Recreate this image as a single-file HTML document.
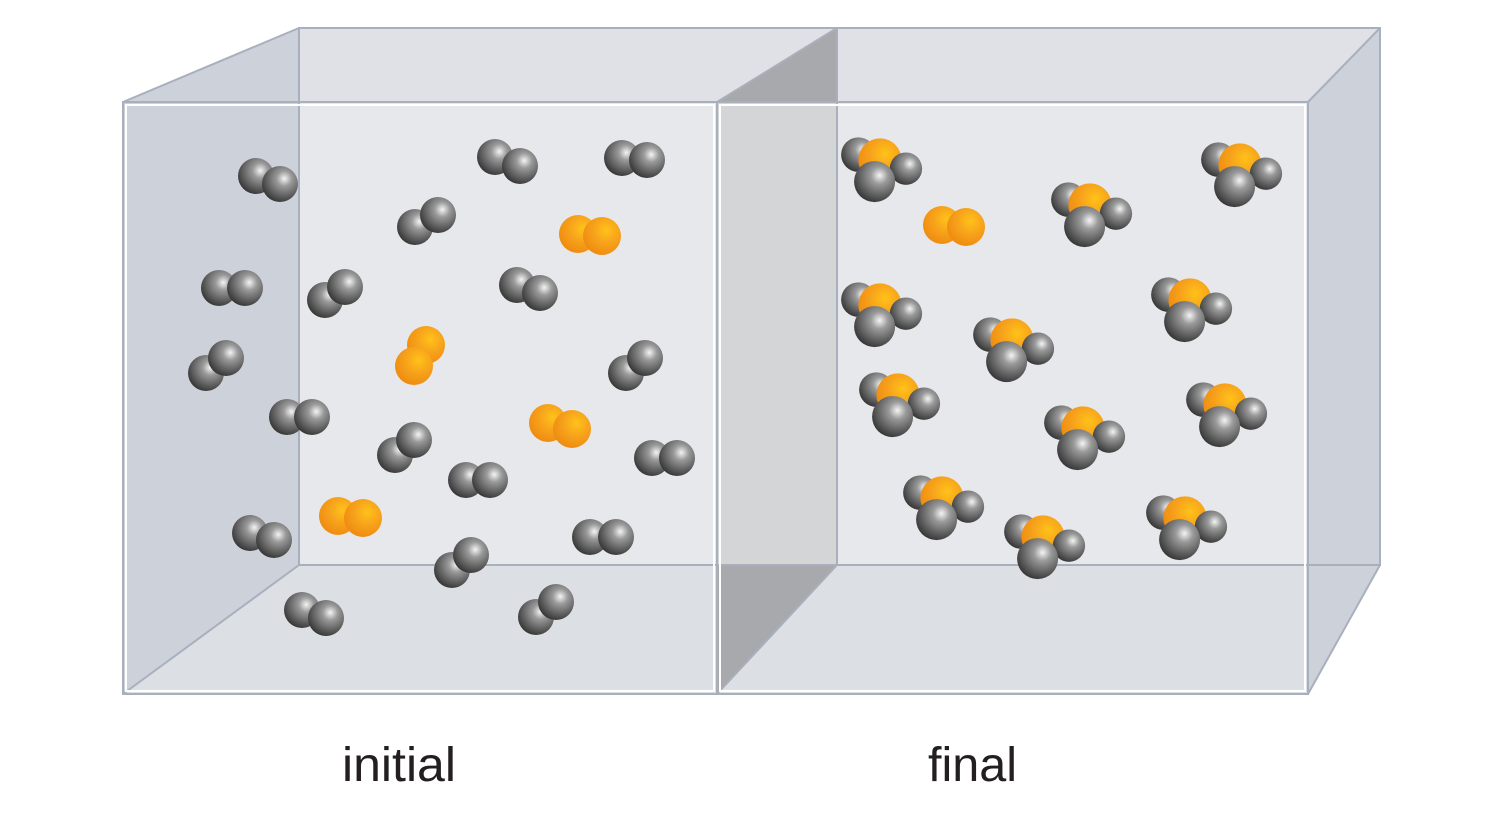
<!DOCTYPE html>
<html><head><meta charset="utf-8"><style>
html,body{margin:0;padding:0;background:#fff;}
svg{display:block}
text{font-family:"Liberation Sans",sans-serif;fill:#231f20}
</style></head><body>
<svg width="1500" height="820" viewBox="0 0 1500 820" xmlns="http://www.w3.org/2000/svg">
<defs>
<radialGradient id="g" cx="0.62" cy="0.35" r="0.7">
<stop offset="0" stop-color="#f4f4f4"/><stop offset="0.3" stop-color="#9a9a9a"/><stop offset="1" stop-color="#333"/></radialGradient>
<radialGradient id="o" cx="0.62" cy="0.35" r="0.7">
<stop offset="0" stop-color="#ffc21a"/><stop offset="0.5" stop-color="#f7a21b"/><stop offset="1" stop-color="#ee8a10"/></radialGradient>
<g id="nh3" transform="scale(1.08)">
<circle cx="-20" cy="-5" r="16" fill="url(#g)"/>
<circle cx="0" cy="0" r="20" fill="url(#o)"/>
<circle cx="24" cy="8" r="15" fill="url(#g)"/>
<circle cx="-5" cy="20" r="19" fill="url(#g)"/>
</g>
</defs>
<rect x="299" y="28" width="1081" height="537" fill="#e6e8ec"/>
<polygon points="123,102 299,28 837,28 717,102" fill="#dfe1e6"/>
<polygon points="717,102 837,28 1380,28 1308,102" fill="#dfe1e6"/>
<polygon points="123,102 299,28 299,565 123,694" fill="#cdd1da"/>
<polygon points="123,694 299,565 837,565 717,694" fill="#dcdfe4"/>
<polygon points="717,694 837,565 1380,565 1308,694" fill="#dcdfe4"/>
<polygon points="1308,102 1380,28 1380,565 1308,694" fill="#cdd1da"/>
<polygon points="717,102 837,28 837,565 717,694" fill="#d4d5d7"/>
<polygon points="717,102 837,28 837,102" fill="#a8a9ac"/>
<polygon points="717,694 837,565 717,565" fill="#a8a9ac"/>
<g stroke="#a9b0bd" stroke-width="2" fill="none">
<rect x="299" y="28" width="1081" height="537"/>
<line x1="123" y1="102" x2="299" y2="28"/>
<line x1="717" y1="102" x2="837" y2="28"/>
<line x1="1308" y1="102" x2="1380" y2="28"/>
<line x1="123" y1="694" x2="299" y2="565"/>
<line x1="717" y1="694" x2="837" y2="565"/>
<line x1="1308" y1="694" x2="1380" y2="565"/>
<line x1="837" y1="28" x2="837" y2="565"/>
</g>
<g fill="none">
<rect x="126" y="105" width="588" height="586" stroke="#fff" stroke-width="2"/>
<rect x="720" y="105" width="585" height="586" stroke="#fff" stroke-width="2"/>
<rect x="123" y="102" width="1185" height="592" stroke="#a9b0bd" stroke-width="2"/>
<line x1="717" y1="102" x2="717" y2="694" stroke="#a9b0bd" stroke-width="2"/>
</g>
<g>
<circle cx="256" cy="176" r="18" fill="url(#g)"/><circle cx="280" cy="184" r="18" fill="url(#g)"/>
<circle cx="495" cy="157" r="18" fill="url(#g)"/><circle cx="520" cy="166" r="18" fill="url(#g)"/>
<circle cx="622" cy="158" r="18" fill="url(#g)"/><circle cx="647" cy="160" r="18" fill="url(#g)"/>
<circle cx="415" cy="227" r="18" fill="url(#g)"/><circle cx="438" cy="215" r="18" fill="url(#g)"/>
<circle cx="219" cy="288" r="18" fill="url(#g)"/><circle cx="245" cy="288" r="18" fill="url(#g)"/>
<circle cx="325" cy="300" r="18" fill="url(#g)"/><circle cx="345" cy="287" r="18" fill="url(#g)"/>
<circle cx="517" cy="285" r="18" fill="url(#g)"/><circle cx="540" cy="293" r="18" fill="url(#g)"/>
<circle cx="206" cy="373" r="18" fill="url(#g)"/><circle cx="226" cy="358" r="18" fill="url(#g)"/>
<circle cx="626" cy="373" r="18" fill="url(#g)"/><circle cx="645" cy="358" r="18" fill="url(#g)"/>
<circle cx="287" cy="417" r="18" fill="url(#g)"/><circle cx="312" cy="417" r="18" fill="url(#g)"/>
<circle cx="395" cy="455" r="18" fill="url(#g)"/><circle cx="414" cy="440" r="18" fill="url(#g)"/>
<circle cx="466" cy="480" r="18" fill="url(#g)"/><circle cx="490" cy="480" r="18" fill="url(#g)"/>
<circle cx="652" cy="458" r="18" fill="url(#g)"/><circle cx="677" cy="458" r="18" fill="url(#g)"/>
<circle cx="250" cy="533" r="18" fill="url(#g)"/><circle cx="274" cy="540" r="18" fill="url(#g)"/>
<circle cx="590" cy="537" r="18" fill="url(#g)"/><circle cx="616" cy="537" r="18" fill="url(#g)"/>
<circle cx="452" cy="570" r="18" fill="url(#g)"/><circle cx="471" cy="555" r="18" fill="url(#g)"/>
<circle cx="302" cy="610" r="18" fill="url(#g)"/><circle cx="326" cy="618" r="18" fill="url(#g)"/>
<circle cx="536" cy="617" r="18" fill="url(#g)"/><circle cx="556" cy="602" r="18" fill="url(#g)"/>
<circle cx="578" cy="234" r="19" fill="url(#o)"/><circle cx="602" cy="236" r="19" fill="url(#o)"/>
<circle cx="426" cy="345" r="19" fill="url(#o)"/><circle cx="414" cy="366" r="19" fill="url(#o)"/>
<circle cx="548" cy="423" r="19" fill="url(#o)"/><circle cx="572" cy="429" r="19" fill="url(#o)"/>
<circle cx="338" cy="516" r="19" fill="url(#o)"/><circle cx="363" cy="518" r="19" fill="url(#o)"/>
<circle cx="942" cy="225" r="19" fill="url(#o)"/><circle cx="966" cy="227" r="19" fill="url(#o)"/>
</g>
<use href="#nh3" x="880" y="160"/>
<use href="#nh3" x="1090" y="205"/>
<use href="#nh3" x="1240" y="165"/>
<use href="#nh3" x="880" y="305"/>
<use href="#nh3" x="1012" y="340"/>
<use href="#nh3" x="1190" y="300"/>
<use href="#nh3" x="898" y="395"/>
<use href="#nh3" x="1083" y="428"/>
<use href="#nh3" x="1225" y="405"/>
<use href="#nh3" x="942" y="498"/>
<use href="#nh3" x="1043" y="537"/>
<use href="#nh3" x="1185" y="518"/>
<text x="342" y="781" font-size="48" textLength="114" lengthAdjust="spacingAndGlyphs">initial</text>
<text x="928" y="781" font-size="48" textLength="89" lengthAdjust="spacingAndGlyphs">final</text>
</svg>
</body></html>
